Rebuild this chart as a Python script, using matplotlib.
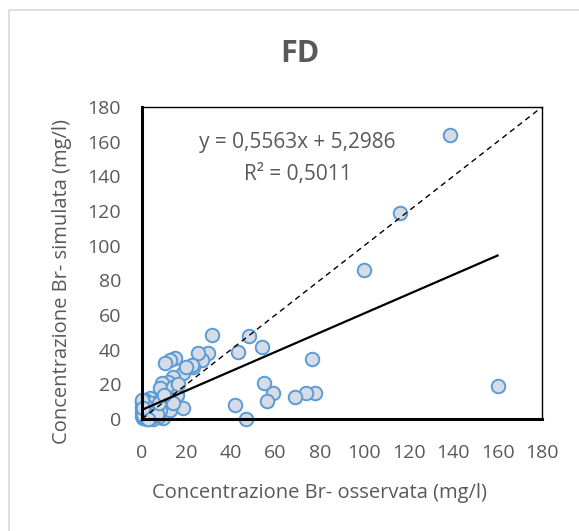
import matplotlib
matplotlib.use("Agg")
import matplotlib.pyplot as plt
from matplotlib.patches import Rectangle
import numpy as np

plt.rcParams['font.family'] = ['Open Sans', 'DejaVu Sans']

obs = [138.5, 116, 100, 160, 76.5, 78, 74, 69, 59, 56.3, 55, 54, 48.2, 46.8, 43, 42,
       31.5, 29.7, 27, 25.2, 23, 18.5, 18.5, 14.8, 12.6, 10.4, 22.5, 14, 11.7, 9, 9.5,
       8.1, 14, 11.7, 9, 9.5, 0.5, 0, 0.5, 2.7, 4.5, 5.8, 6.5, 3.6, 1.4, 7.2, 5,
       12.6, 15.8, 11.7, 14, 1, 2, 3, 0, 0.3, 6, 4, 2.5, 1.5, 8, 0.2, 3.5,
       0, 0.8, 1.8, 2.2, 3, 4.2, 5.2, 6.8, 0.4, 1.2, 2.8, 0, 0.6, 7.5, 10, 16, 20]
sim = [164, 119, 86, 19, 34.6, 15, 15, 12.7, 15, 10.4, 20.8, 41.5, 47.9, 0, 38.7, 8,
       48.5, 38, 34, 38, 30, 26.5, 6.5, 35, 34, 32.3, 31, 24, 21.4, 21, 16.7,
       18, 18.5, 8, 5, 0.6, 9, 4, 0.6, 7, 3.5, 6.3, 11, 12, 11, 1.2, 0,
       5.2, 14, 12, 9, 6, 2, 8, 2, 1, 9, 1, 4, 3, 5, 10, 0.5,
       7, 5, 10, 0, 6, 9, 1.5, 3, 2.5, 8, 0.2, 11, 6.5, 9.5, 14, 20, 30]

slope, intercept = 0.5563, 5.2986
eq_text = "y = 0,5563x + 5,2986"
r2_text = "R² = 0,5011"
ticks = list(range(0, 181, 20))

W, H = 579, 531
fig = plt.figure(figsize=(W/100, H/100), dpi=100)
fig.patch.set_facecolor('white')
fig.add_artist(Rectangle((9/W, -0.1), 1.2, (H-10)/H + 0.1, transform=fig.transFigure,
                         fill=False, edgecolor='#D9D9D9', linewidth=1.2))

ax = fig.add_axes([142/W, (H-419)/H, 400/W, 312/H])
ax.set_xlim(0, 180)
ax.set_ylim(0, 180)
ax.plot([0, 180], [0, 180], linestyle=(0, (4, 3)), color='black', linewidth=1.0, zorder=3)
xx = np.array([0, 160])
ax.plot(xx, slope*xx + intercept, color='black', linewidth=1.6, zorder=3)
ax.scatter(obs, sim, s=95, facecolor='#D6DCE5', edgecolor='#5B9BD5', linewidths=1.4,
           zorder=2, clip_on=False)

ax.set_xticks(ticks)
ax.set_yticks(ticks)
ax.tick_params(length=0, labelsize=14, colors='#595959')
ax.tick_params(axis='x', pad=18)
ax.tick_params(axis='y', pad=15)
for s in ['left', 'bottom']:
    ax.spines[s].set_linewidth(2.2)
for s in ['top', 'right']:
    ax.spines[s].set_linewidth(1.0)

ax.set_xlabel("Concentrazione Br- osservata (mg/l)", fontsize=14.5, color='#595959', va='center')
ax.set_ylabel("Concentrazione Br- simulata (mg/l)", fontsize=14.5, color='#595959', va='center')
ax.xaxis.set_label_coords((320-142)/400, -(493-419)/312)
ax.yaxis.set_label_coords(-(142-62)/400, (419-281)/312)
fig.text(300/W, 1-54/H, "FD", ha='center', va='center', fontsize=22, fontweight='bold',
         color='#595959')
ax.text(0.389, 0.885, eq_text, transform=ax.transAxes, ha='center', va='center',
        fontsize=15, color='#595959')
ax.text(0.389, 0.785, r2_text, transform=ax.transAxes, ha='center', va='center',
        fontsize=15, color='#595959')

fig.savefig("out.png", dpi=100)
